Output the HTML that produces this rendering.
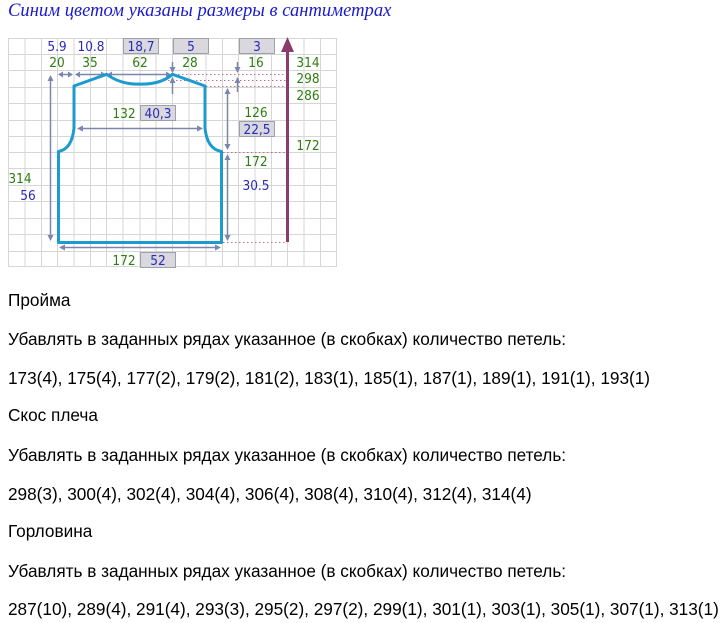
<!DOCTYPE html>
<html><head><meta charset="utf-8"><style>
body{margin:0;width:720px;height:623px;background:#fff;overflow:hidden;position:relative;font-family:"Liberation Sans",Arial,sans-serif}
.t{position:absolute;left:8px;font-size:17.2px;color:#000;white-space:nowrap;line-height:20px}
.title{position:absolute;left:8px;top:0;font-family:"Liberation Serif",serif;font-style:italic;font-size:18.6px;color:#1a1acc;white-space:nowrap}
svg{position:absolute;left:0;top:0}
</style></head><body>
<div class="title">Синим цветом указаны размеры в сантиметрах</div>
<svg width="345" height="275" viewBox="0 0 345 275" font-family="Tahoma,'DejaVu Sans Condensed','Liberation Sans',sans-serif" font-size="13.5">
<rect x="8" y="38" width="329" height="229" fill="#fff"/>
<g stroke="#d6d6d6" stroke-width="1">
<path d="M8.5 38v229M25 38v229M41.5 38v229M57.5 38v229M74 38v229M90.5 38v229M106.5 38v229M123 38v229M140 38v229M156 38v229M172.5 38v229M189 38v229M206 38v229M222.5 38v229M238.5 38v229M255 38v229M271.5 38v229M287.5 38v229M304 38v229M320.5 38v229M336.5 38v229"/>
<path d="M8 38.5h329M8 54.5h329M8 70.5h329M8 87.5h329M8 103.5h329M8 120.5h329M8 136.5h329M8 152.5h329M8 168.5h329M8 185.5h329M8 201.5h329M8 218.5h329M8 234.5h329M8 251.5h329M8 266.5h329"/>
</g>
<g stroke="#c06f8f" stroke-width="1" stroke-dasharray="1.5,2.5">
<path d="M174 74.5H287M160 80.5H287M206 86.5H287M223 152.5H287M223 242.5H287"/>
</g>
<path d="M287.5 242V50" stroke="#8c3c6c" stroke-width="3"/>
<path d="M281 52L287.5 37L294 52Z" fill="#8c3c6c"/>
<g fill="#d8d8de" stroke="#a0a0a8" stroke-width="1">
<rect x="123.5" y="38.5" width="35" height="15"/>
<rect x="173.5" y="38.5" width="35" height="15"/>
<rect x="239.5" y="38.5" width="35" height="15"/>
<rect x="140.5" y="105.5" width="35" height="15"/>
<rect x="239.5" y="121.5" width="35" height="15"/>
<rect x="140.5" y="252.5" width="35" height="15"/>
</g>
<g stroke="#7a86ad" stroke-width="1.5" fill="none">
<path d="M59 74.5H72M76 74.5H104M109 74.5H170"/>
<path d="M50.5 77V239"/>
<path d="M227.5 90V148M227.5 156V239"/>
<path d="M79 128.5H201"/>
<path d="M61 247.5H219"/>
<path d="M172.5 62V72M172.5 78V94"/>
<path d="M237.5 62V72M237.5 78V92"/>
</g>
<g fill="#7a86ad">
<path d="M58 74.5l5-3v6zM73 74.5l-5-3v6zM75 74.5l5-3v6zM106 74.5l-5-3v6zM107 74.5l5-3v6zM171 74.5l-5-3v6z"/>
<path d="M50.5 75l-3 6h6zM50.5 241l-3-6h6z"/>
<path d="M227.5 88l-3 6h6zM227.5 150l-3-6h6zM227.5 154l-3 6h6zM227.5 241l-3-6h6z"/>
<path d="M77 128.5l6-3v6zM203 128.5l-6-3v6z"/>
<path d="M59 247.5l6-3v6zM221 247.5l-6-3v6z"/>
<path d="M172.5 73l-3-6h6zM172.5 77l-3 6h6z"/>
<path d="M237.5 73l-3-6h6zM237.5 77l-3 6h6z"/>
</g>
<path d="M58.5 242.5V151.5Q72 149 74 128V86L106.5 74.3Q122 85 139 84Q160 85 172.5 74.3L205 86V128Q207 149 221.5 151.5V242.5Z" fill="none" stroke="#1d9ad0" stroke-width="3" stroke-linejoin="round"/>
<g fill="#2a2ab8" text-anchor="middle">
<text x="57" y="51">5.9</text><text x="91" y="51">10.8</text><text x="141" y="51">18,7</text><text x="191" y="51">5</text><text x="257" y="51">3</text>
<text x="158" y="118">40,3</text><text x="257" y="134">22,5</text><text x="256" y="190">30.5</text><text x="28" y="200">56</text><text x="158" y="265">52</text>
</g>
<g fill="#2e7d10" text-anchor="middle">
<text x="57" y="67">20</text><text x="90" y="67">35</text><text x="140" y="67">62</text><text x="190" y="67">28</text><text x="256" y="67">16</text>
<text x="308" y="67">314</text><text x="308" y="83">298</text><text x="308" y="100">286</text>
<text x="124" y="118">132</text><text x="256" y="117">126</text><text x="308" y="150">172</text><text x="256" y="166">172</text>
<text x="20" y="183">314</text><text x="124" y="265">172</text>
</g>
</svg>
<div class="t" style="top:290px">Пройма</div>
<div class="t" style="top:329px">Убавлять в заданных рядах указанное (в скобках) количество петель:</div>
<div class="t" style="top:368px">173(4), 175(4), 177(2), 179(2), 181(2), 183(1), 185(1), 187(1), 189(1), 191(1), 193(1)</div>
<div class="t" style="top:405px">Скос плеча</div>
<div class="t" style="top:445px">Убавлять в заданных рядах указанное (в скобках) количество петель:</div>
<div class="t" style="top:484px">298(3), 300(4), 302(4), 304(4), 306(4), 308(4), 310(4), 312(4), 314(4)</div>
<div class="t" style="top:521px">Горловина</div>
<div class="t" style="top:561px">Убавлять в заданных рядах указанное (в скобках) количество петель:</div>
<div class="t" style="top:599px">287(10), 289(4), 291(4), 293(3), 295(2), 297(2), 299(1), 301(1), 303(1), 305(1), 307(1), 313(1)</div>
</body></html>
